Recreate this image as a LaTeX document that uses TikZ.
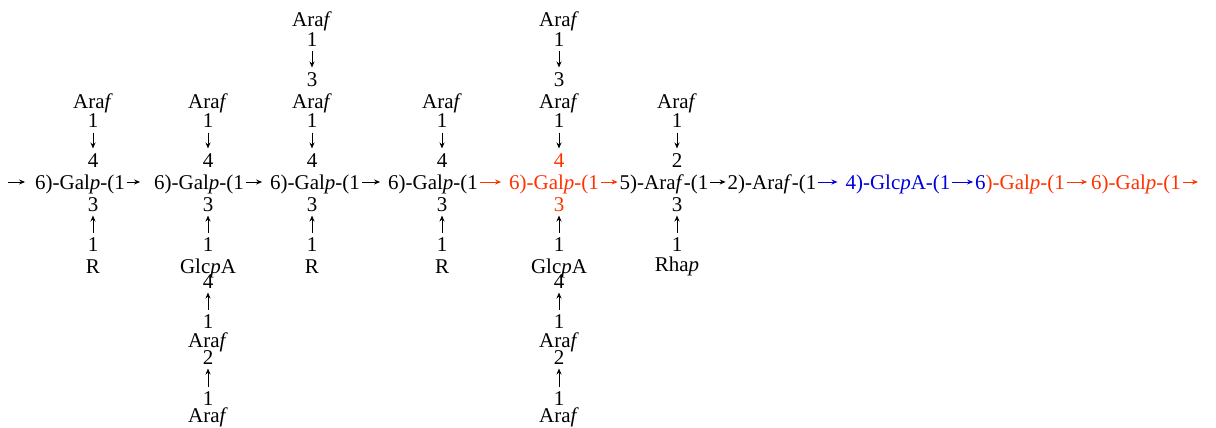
\documentclass[tikz,border=0pt]{standalone}
\usepackage{fontspec}
\setmainfont{Liberation Serif}
\usetikzlibrary{arrows.meta}
\definecolor{hlred}{RGB}{255,51,0}
\definecolor{hlblue}{RGB}{0,0,221}
\newcommand{\araf}{Ara\textit{f}}
\newcommand{\galp}{Gal\textit{p}}

\begin{document}
\begin{tikzpicture}[x=1pt,y=-1pt,line width=1pt,
  sugar/.style={anchor=base,inner xsep=1.5pt,inner ysep=4pt,text height=14pt,text depth=0pt,font=\fontsize{21}{21}\selectfont},
  link/.style={-{Stealth[length=6pt,width=5pt]}}]
\path[use as bounding box] (0,0) rectangle (1216,428);
% main chain
\coordinate (in) at (8,182);
\node[sugar] (g1) at (80,189) {6)-\galp-(1};
\node[sugar] (g2) at (199,189) {6)-\galp-(1};
\node[sugar] (g3) at (315,189) {6)-\galp-(1};
\node[sugar] (g4) at (433,189) {6)-\galp-(1};
\node[sugar,text=hlred] (g5) at (554,189) {6)-\galp-(1};
\node[sugar] (g6) at (664,189) {5)-\araf-(1};
\node[sugar] (g7) at (772,189) {2)-\araf-(1};
\node[sugar,text=hlblue] (g8) at (898,189) {4)-Glc\textit{p}A-(1};
\node[sugar] (g9) at (1020,189) {\textcolor{hlblue}{6}\textcolor{hlred}{)-\galp-(1}};
\node[sugar,text=hlred] (g10) at (1136,189) {6)-\galp-(1};
\coordinate (out) at (1198,182);
\draw[link,shorten >=8pt] (in) -- (g1.west);
\draw[link,shorten >=12pt] (g1.east) -- (g2.west);
\draw[link,shorten >=6pt] (g2.east) -- (g3.west);
\draw[link,shorten >=6pt] (g3.east) -- (g4.west);
\draw[link,hlred,shorten >=6pt] (g4.east) -- (g5.west);
\draw[link,hlred] (g5.east) -- (g6.west);
\draw[link] (g6.east) -- (g7.west);
\draw[link,hlblue,shorten >=6pt] (g7.east) -- (g8.west);
\draw[link,hlblue] (g8.east) -- (g9.west);
\draw[link,hlred,shorten >=2pt] (g9.east) -- (g10.west);
\draw[link,hlred] (g10.east) -- (out);
% branch 1
\node[sugar] (c1top) at (93,108) {\araf};
\node[sugar] (c1t1) at (93,128) {1};
\node[sugar] (c1t4) at (93,167) {4};
\node[sugar] (c1b3) at (93,211) {3};
\node[sugar] (c1b1) at (93,251) {1};
\node[sugar] (c1bot) at (93,273) {R};
\draw[link] (c1t1) -- (c1t4);
\draw[link] (c1b1) -- (c1b3);
% branch 2
\node[sugar] (c2top) at (208,108) {\araf};
\node[sugar] (c2t1) at (208,128) {1};
\node[sugar] (c2t4) at (208,167) {4};
\node[sugar] (c2b3) at (208,211) {3};
\node[sugar] (c2b1) at (208,251) {1};
\node[sugar] (c2glc) at (208,273) {Glc\textit{p}A};
\node[sugar] (c2g4) at (208,288) {4};
\node[sugar] (c2g1) at (208,328) {1};
\node[sugar] (c2ara) at (208,347) {\araf};
\node[sugar] (c2a2) at (208,364) {2};
\node[sugar] (c2a1) at (208,405) {1};
\node[sugar] (c2bot) at (208,422) {\araf};
\draw[link] (c2t1) -- (c2t4);
\draw[link] (c2b1) -- (c2b3);
\draw[link] (c2g1) -- (c2g4);
\draw[link] (c2a1) -- (c2a2);
% branch 3
\node[sugar] (c3end) at (312,27) {\araf};
\node[sugar] (c3u1) at (312,47) {1};
\node[sugar] (c3u3) at (312,86) {3};
\node[sugar] (c3top) at (312,108) {\araf};
\node[sugar] (c3t1) at (312,128) {1};
\node[sugar] (c3t4) at (312,167) {4};
\node[sugar] (c3b3) at (312,211) {3};
\node[sugar] (c3b1) at (312,251) {1};
\node[sugar] (c3bot) at (312,273) {R};
\draw[link] (c3u1) -- (c3u3);
\draw[link] (c3t1) -- (c3t4);
\draw[link] (c3b1) -- (c3b3);
% branch 4
\node[sugar] (c4top) at (442,108) {\araf};
\node[sugar] (c4t1) at (442,128) {1};
\node[sugar] (c4t4) at (442,167) {4};
\node[sugar] (c4b3) at (442,211) {3};
\node[sugar] (c4b1) at (442,251) {1};
\node[sugar] (c4bot) at (442,273) {R};
\draw[link] (c4t1) -- (c4t4);
\draw[link] (c4b1) -- (c4b3);
% branch 5
\node[sugar] (c5end) at (559,27) {\araf};
\node[sugar] (c5u1) at (559,47) {1};
\node[sugar] (c5u3) at (559,86) {3};
\node[sugar] (c5top) at (559,108) {\araf};
\node[sugar] (c5t1) at (559,128) {1};
\node[sugar,text=hlred] (c5t4) at (559,167) {4};
\node[sugar,text=hlred] (c5b3) at (559,211) {3};
\node[sugar] (c5b1) at (559,251) {1};
\node[sugar] (c5glc) at (559,273) {Glc\textit{p}A};
\node[sugar] (c5g4) at (559,288) {4};
\node[sugar] (c5g1) at (559,328) {1};
\node[sugar] (c5ara) at (559,347) {\araf};
\node[sugar] (c5a2) at (559,364) {2};
\node[sugar] (c5a1) at (559,405) {1};
\node[sugar] (c5bot) at (559,422) {\araf};
\draw[link] (c5u1) -- (c5u3);
\draw[link] (c5t1) -- (c5t4);
\draw[link] (c5b1) -- (c5b3);
\draw[link] (c5g1) -- (c5g4);
\draw[link] (c5a1) -- (c5a2);
% branch 6
\node[sugar] (c6top) at (677,108) {\araf};
\node[sugar] (c6t1) at (677,128) {1};
\node[sugar] (c6t2) at (677,167) {2};
\node[sugar] (c6b3) at (677,211) {3};
\node[sugar] (c6b1) at (677,251) {1};
\node[sugar] (c6bot) at (677,271) {Rha\textit{p}};
\draw[link] (c6t1) -- (c6t2);
\draw[link] (c6b1) -- (c6b3);
\end{tikzpicture}
\end{document}
